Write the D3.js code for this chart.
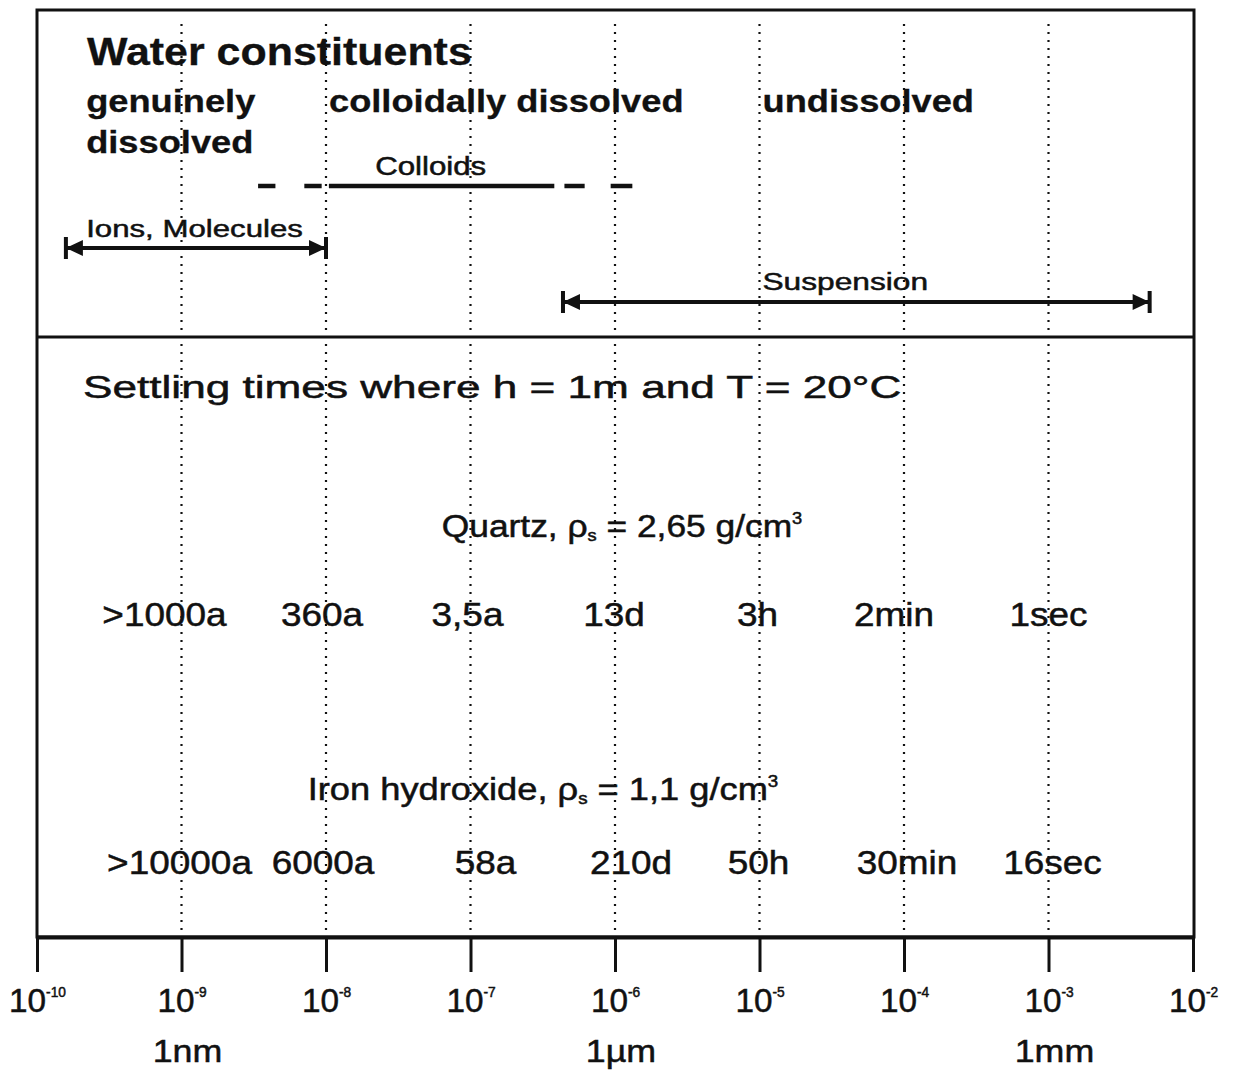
<!DOCTYPE html>
<html><head><meta charset="utf-8">
<script src="https://cdn.jsdelivr.net/npm/d3@7"></script>
<style>
body{margin:0;background:#fff}
text{font-family:"Liberation Sans",Arial,sans-serif;fill:#111;stroke:#111;stroke-width:0.5px}
</style>
</head><body>
<svg id="c" width="1248" height="1080"></svg>
<script>
// ---------- data ----------
const decades = [-10,-9,-8,-7,-6,-5,-4,-3,-2];
const gridDecades = [-9,-8,-7,-6,-5,-4,-3];
const unitLabels = ["1nm","1µm","1mm"];
const unitDecades = [-9,-6,-3];
const classNames = [["genuinely","dissolved"],["colloidally dissolved"],["undissolved"]];
const classStart = [-9.66,-8,-5];
const colloidSegments = [[-8.47,-8.35],[-8.15,-8.03],[-7.98,-6.42],[-6.35,-6.21],[-6.03,-5.88]];
const rangeNames = ["Ions, Molecules","Suspension"];
const rangeFrom = [-9.8,-6.36];
const rangeTo = [-8.0,-2.3];
const settleDecades = [-9,-8,-7,-6,-5,-4,-3];
const quartzTimes = [">1000a","360a","3,5a","13d","3h","2min","1sec"];
const ironTimes = [">10000a","6000a","58a","210d","50h","30min","16sec"];

// ---------- layout ----------
const svg = d3.select("#c");
const x = d3.scaleLog().domain([1e-10,1e-2]).range([37,1193]);
const X = e => x(Math.pow(10,e));
const yTop = 10, yMid = 337, yBottom = 937;
const ink = "#111";

// text helper with horizontal stretch
function label(parent, px, py, parts, o){
  const g = parent.append("g").attr("transform",`translate(${px},${py}) scale(${o.sx||1},1)`);
  const t = g.append("text").attr("font-size",o.size).attr("font-weight",o.weight||"normal")
    .attr("text-anchor",o.anchor||"start");
  if (o.weight==="bold") t.style("stroke-width","0.3px");
  if (typeof parts === "string") parts = [{t:parts}];
  parts.forEach(p=>{
    const ts = t.append("tspan").text(p.t);
    if (p.size) ts.attr("font-size",p.size);
    if (p.dy) ts.attr("dy",p.dy);
  });
  return t;
}

// dotted grid lines
svg.append("g").selectAll("line").data(gridDecades).join("line")
  .attr("x1",d=>X(d)).attr("x2",d=>X(d)).attr("y1",yTop+14).attr("y2",yBottom-2)
  .attr("stroke",ink).attr("stroke-width",2.2).attr("stroke-dasharray","2,6");

// frame
svg.append("rect").attr("x",37).attr("y",yTop).attr("width",1157).attr("height",yBottom-yTop)
  .attr("fill","none").attr("stroke",ink).attr("stroke-width",3);
svg.append("line").attr("x1",37).attr("x2",1194).attr("y1",yMid).attr("y2",yMid)
  .attr("stroke",ink).attr("stroke-width",3);

// axis
const axis = d3.axisBottom(x).tickValues(decades.map(e=>Math.pow(10,e)))
  .tickSize(35).tickSizeOuter(0).tickFormat("");
const ag = svg.append("g").attr("transform",`translate(0,${yBottom})`).call(axis);
ag.select(".domain").attr("stroke",ink).attr("stroke-width",4);
ag.selectAll(".tick line").attr("stroke",ink).attr("stroke-width",3);
ag.selectAll(".tick").each(function(d,i){
  const e = decades[i];
  label(d3.select(this), 0, 75, [{t:"10"},{t:String(e),size:14,dy:-15}], {size:34,sx:0.98,anchor:"middle"});
});
unitDecades.forEach((e,i)=>{
  label(svg, X(e)+6, 1062, unitLabels[i], {size:32,sx:1.12,anchor:"middle"});
});

// top panel
label(svg, 87, 65, "Water constituents", {size:38,weight:"bold",sx:1.13});
classNames.forEach((lines,i)=>{
  const px = i===0 ? X(classStart[i]) : X(classStart[i])+3;
  lines.forEach((ln,j)=>label(svg, px, 112+j*41, ln, {size:31,weight:"bold",sx:1.17}));
});
label(svg, X(-7.66), 175, "Colloids", {size:25,sx:1.25});
svg.append("g").selectAll("line").data(colloidSegments).join("line")
  .attr("x1",d=>X(d[0])).attr("x2",d=>X(d[1])).attr("y1",186).attr("y2",186)
  .attr("stroke",ink).attr("stroke-width",4.5);

// arrow markers
const defs = svg.append("defs");
defs.append("marker").attr("id","ah").attr("markerUnits","userSpaceOnUse")
  .attr("viewBox","-24 -14 28 28").attr("refX",0).attr("refY",0)
  .attr("markerWidth",28).attr("markerHeight",28).attr("orient","auto-start-reverse")
  .append("path").attr("d","M0,0 L-17,-8 L-17,8 Z M-2,-11 L2,-11 L2,11 L-2,11 Z").attr("fill",ink);

const rangeY = [248,302];
const rangeLabelX = [X(-9.66), X(-5)+3];
const rangeLabelY = [237,290];
const rangeSx = [1.3,1.32];
rangeNames.forEach((n,i)=>{
  svg.append("line").attr("x1",X(rangeFrom[i])).attr("x2",X(rangeTo[i]))
    .attr("y1",rangeY[i]).attr("y2",rangeY[i]).attr("stroke",ink).attr("stroke-width",4)
    .attr("marker-start","url(#ah)").attr("marker-end","url(#ah)");
  label(svg, rangeLabelX[i], rangeLabelY[i], n, {size:24,sx:rangeSx[i]});
});

// bottom panel
label(svg, 83, 398, "Settling times where h = 1m and T = 20°C", {size:32,sx:1.38});
label(svg, 622, 537, [{t:"Quartz, ρ"},{t:"s",size:16,dy:4},{t:" = 2,65 g/cm",dy:-4},{t:"3",size:16,dy:-13}], {size:31,sx:1.14,anchor:"middle"});
label(svg, 543, 800, [{t:"Iron hydroxide, ρ"},{t:"s",size:16,dy:4},{t:" = 1,1 g/cm",dy:-4},{t:"3",size:16,dy:-13}], {size:31,sx:1.17,anchor:"middle"});

const quartzDx = [-17,-4,-3,-1,-2,-10,0];
const ironDx = [-2,-3,15,16,-1,3,4];
settleDecades.forEach((e,i)=>{
  label(svg, X(e)+quartzDx[i], 626, quartzTimes[i], {size:33,sx:1.12,anchor:"middle"});
  label(svg, X(e)+ironDx[i], 874, ironTimes[i], {size:33,sx:1.12,anchor:"middle"});
});
</script>
</body></html>
